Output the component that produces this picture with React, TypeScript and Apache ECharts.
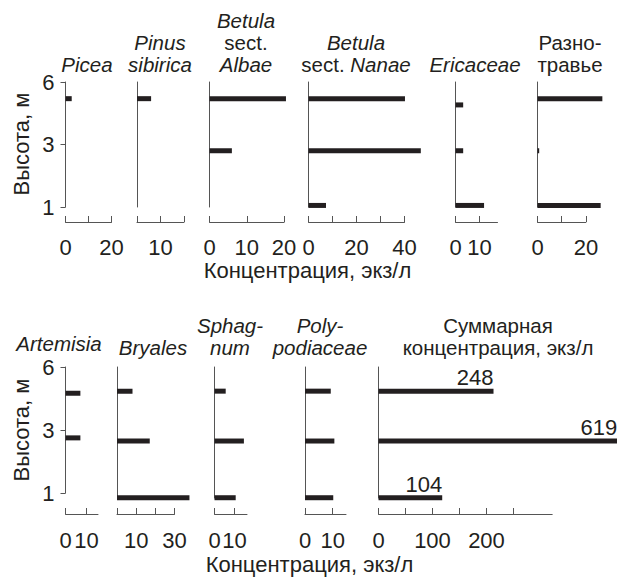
import React, { useEffect, useRef } from 'react';
import * as echarts from 'echarts';

// ---------- data ----------
// sample heights (m) per panel, values (specimens per litre)
const yTickHeights = [6, 3, 1];
const topHeights = [5.2, 2.8, 1.05];
const ericaceaeHeights = [4.9, 2.8, 1.05];
const bottomHeights = [4.85, 2.65, 0.85];
const artemisiaHeights = [4.75, 2.75, 0.85];

const piceaValues = [2.7, 0, 0];
const pinusValues = [6, 0, 0];
const albaeValues = [20.5, 6, 0];
const nanaeValues = [40.2, 46.8, 7.3];
const ericaceaeValues = [3.2, 3.2, 11.9];
const herbValues = [26.8, 0.7, 26.1];

const artemisiaValues = [7.1, 7.1, 0];
const bryalesValues = [8.1, 17.1, 37.8];
const sphagnumValues = [5.6, 14.7, 10.6];
const polypodiaceaeValues = [9.3, 10.6, 10.2];
const totalBarDrawn = [213, 442, 118];
const totalLabels = [248, 619, 104];

const xTicksPicea = [0, 10, 20];
const xLabelsPicea = [0, 20];
const xTicksPinus = [0, 10, 20];
const xLabelsPinus = [10];
const xTicksAlbae = [0, 10, 20];
const xLabelsAlbae = [0, 10, 20];
const xTicksNanae = [0, 10, 20, 30, 40];
const xLabelsNanae = [0, 20, 40];
const xTicksEric = [0, 10];
const xLabelsEric = [0, 10];
const xTicksHerb = [0, 10, 20];
const xLabelsHerb = [0, 20];
const xTicksArt = [0, 10];
const xLabelsArt = [0, 10];
const xTicksBry = [0, 10, 20, 30];
const xLabelsBry = [10, 30];
const xTicksSph = [0, 10];
const xLabelsSph = [0, 10];
const xTicksPoly = [0, 10];
const xLabelsPoly = [0, 10];
const xTicksTotal = [0, 50, 100, 150, 200, 250];
const xLabelsTotal = [0, 100, 200];

const yAxisTitle = 'Высота, м';
const xAxisTitle = 'Концентрация, экз/л';

// ---------- styling / layout ----------
const FONT = '"Liberation Sans", Arial, Helvetica, sans-serif';
const FS = 22;
const TFS = 20.5;
const LH = 22;
const TEXT = '#231f20';
const AXIS = '#555555';
const BAR = '#231f20';
const BAR_W = 5;

const rows = [
  { top: 82, unit: 62.5, axisY: 222, labelMargin: 14, nameY: 144, captionY: 270, captionX: 307.5, titleLast: 64 },
  { top: 367, unit: 63, axisY: 514, labelMargin: 15, nameY: 430, captionY: 564, captionX: 309.5, titleLast: 347 },
];

// piecewise height scale of the original figure (6, 3, 1 m equally spaced)
const heightToPos = (h: number) => (h >= 3 ? (6 - h) / 3 : 1 + (3 - h) / 2);

type Panel = {
  row: number; left: number; width: number; max: number; yMax: number;
  ticks: number[]; labels: number[]; heights: number[]; values: number[];
  first?: boolean; title: string[]; cx: number; dy?: number; total?: boolean;
};

const panels: Panel[] = [
  { row: 0, left: 65.5, width: 46, max: 20, yMax: 2, ticks: xTicksPicea, labels: xLabelsPicea, heights: topHeights, values: piceaValues, first: true, title: ['{i|Picea}'], cx: 87 },
  { row: 0, left: 137, width: 47, max: 20, yMax: 2, ticks: xTicksPinus, labels: xLabelsPinus, heights: topHeights, values: pinusValues, title: ['{i|Pinus}', '{i|sibirica}'], cx: 160 },
  { row: 0, left: 209.5, width: 74.6, max: 20, yMax: 2, ticks: xTicksAlbae, labels: xLabelsAlbae, heights: topHeights, values: albaeValues, title: ['{i|Betula}', '{n|sect.}', '{i|Albae}'], cx: 246 },
  { row: 0, left: 308.5, width: 96, max: 40, yMax: 2, ticks: xTicksNanae, labels: xLabelsNanae, heights: topHeights, values: nanaeValues, title: ['{i|Betula}', '{n|sect.} {i|Nanae}'], cx: 356 },
  { row: 0, left: 455.5, width: 42, max: 17.5, yMax: 2, ticks: xTicksEric, labels: xLabelsEric, heights: ericaceaeHeights, values: ericaceaeValues, title: ['{i|Ericaceae}'], cx: 475 },
  { row: 0, left: 537.5, width: 48.4, max: 20, yMax: 2, ticks: xTicksHerb, labels: xLabelsHerb, heights: topHeights, values: herbValues, title: ['{n|Разно-}', '{n|травье}'], cx: 570 },

  { row: 1, left: 65.5, width: 32.5, max: 15.5, yMax: 2, ticks: xTicksArt, labels: xLabelsArt, heights: artemisiaHeights, values: artemisiaValues, first: true, title: ['{i|Artemisia}'], cx: 59, dy: -4 },
  { row: 1, left: 117, width: 57.5, max: 30, yMax: 2.08, ticks: xTicksBry, labels: xLabelsBry, heights: bottomHeights, values: bryalesValues, title: ['{i|Bryales}'], cx: 153 },
  { row: 1, left: 214.5, width: 32.5, max: 16.25, yMax: 2.08, ticks: xTicksSph, labels: xLabelsSph, heights: bottomHeights, values: sphagnumValues, title: ['{i|Sphag-}', '{i|num}'], cx: 230 },
  { row: 1, left: 305, width: 41, max: 14.8, yMax: 2.08, ticks: xTicksPoly, labels: xLabelsPoly, heights: bottomHeights, values: polypodiaceaeValues, title: ['{i|Poly-}', '{i|podiaceae}'], cx: 320 },
  { row: 1, left: 378.5, width: 173.7, max: 321.7, yMax: 2.08, ticks: xTicksTotal, labels: xLabelsTotal, heights: bottomHeights, values: totalBarDrawn, title: ['{n|Суммарная}', '{n|концентрация, экз/л}'], cx: 498, total: true },
];

const richStyles = {
  i: { fontStyle: 'italic', fontSize: TFS, fontFamily: FONT, color: TEXT, lineHeight: LH },
  n: { fontStyle: 'normal', fontSize: TFS, fontFamily: FONT, color: TEXT, lineHeight: LH },
};

function buildOption() {
  const grid: any[] = [];
  const xAxis: any[] = [];
  const yAxis: any[] = [];
  const series: any[] = [];
  const graphic: any[] = [];
  const tickPos = yTickHeights.map(heightToPos);

  panels.forEach((p, i) => {
    const r = rows[p.row];
    const h = p.yMax * r.unit;
    grid.push({ left: p.left, top: r.top, width: p.width, height: h, containLabel: false, outerBoundsMode: 'none' });
    xAxis.push({
      gridIndex: i, type: 'value', min: 0, max: p.max, position: 'bottom',
      offset: r.axisY - (r.top + h),
      axisLine: { show: true, onZero: false, lineStyle: { color: AXIS, width: 1 } },
      axisTick: { show: true, inside: true, length: 6, customValues: p.ticks, lineStyle: { color: AXIS, width: 1 } },
      axisLabel: { show: true, customValues: p.labels, margin: r.labelMargin, fontSize: FS, fontFamily: FONT, color: TEXT, hideOverlap: false },
      splitLine: { show: false },
    });
    yAxis.push({
      gridIndex: i, type: 'value', min: 0, max: p.yMax, inverse: true,
      axisLine: { show: true, onZero: false, lineStyle: { color: AXIS, width: 1 } },
      axisTick: { show: !!p.first, length: 5, customValues: tickPos, lineStyle: { color: AXIS, width: 1 } },
      axisLabel: {
        show: !!p.first, customValues: tickPos, margin: 11, fontSize: FS, lineHeight: 18, fontFamily: FONT, color: TEXT,
        formatter: (v: number) => {
          const k = tickPos.findIndex((t) => Math.abs(t - v) < 1e-6);
          return k >= 0 ? String(yTickHeights[k]) : '';
        },
      },
      splitLine: { show: false },
    });
    const data = p.values
      .map((v, k) => [v, heightToPos(p.heights[k]), k])
      .filter((d) => d[0] > 0);
    series.push({
      type: 'custom', coordinateSystem: 'cartesian2d', xAxisIndex: i, yAxisIndex: i,
      clip: false, silent: true,
      encode: { x: 0, y: 1 },
      data,
      renderItem: (params: any, api: any) => {
        const v = api.value(0);
        const pos = api.value(1);
        const s = api.coord([0, pos]);
        const e = api.coord([v, pos]);
        const rect = {
          type: 'rect',
          shape: { x: s[0], y: s[1] - BAR_W / 2, width: e[0] - s[0], height: BAR_W },
          style: { fill: BAR },
        };
        if (!p.total) return rect;
        const k = api.value(2);
        return {
          type: 'group',
          children: [
            rect,
            {
              type: 'text', x: e[0], y: s[1] - BAR_W / 2,
              style: { text: String(totalLabels[k]), fontSize: FS, fontFamily: FONT, fill: TEXT, align: 'right', verticalAlign: 'bottom' },
            },
          ],
        };
      },
    });
    // title (one multi-line text element)
    const n = p.title.length;
    graphic.push({
      type: 'text', x: p.cx, y: r.titleLast + (p.dy || 0) - ((n - 1) * LH) / 2, silent: true,
      style: { text: p.title.join('\n'), rich: richStyles, fontSize: TFS, lineHeight: LH, fontFamily: FONT, fill: TEXT, align: 'center', verticalAlign: 'middle' },
    });
  });

  rows.forEach((r) => {
    graphic.push({
      type: 'text', x: 21, y: r.nameY, rotation: Math.PI / 2, silent: true,
      style: { text: yAxisTitle, fontSize: FS, fontFamily: FONT, fill: TEXT, align: 'center', verticalAlign: 'middle' },
    });
    graphic.push({
      type: 'text', x: r.captionX, y: r.captionY, silent: true,
      style: { text: xAxisTitle, fontSize: FS, fontFamily: FONT, fill: TEXT, align: 'center', verticalAlign: 'middle' },
    });
  });

  return { animation: false, backgroundColor: '#ffffff', grid, xAxis, yAxis, series, graphic };
}

export default function App() {
  const ref = useRef<HTMLDivElement>(null);
  useEffect(() => {
    if (!ref.current) return;
    const chart = echarts.init(ref.current, undefined, { renderer: 'svg' });
    chart.setOption(buildOption() as any);
    return () => chart.dispose();
  }, []);
  return <div ref={ref} style={{ position: 'fixed', left: 0, top: 0, width: 617, height: 581, background: '#fff' }} />;
}
